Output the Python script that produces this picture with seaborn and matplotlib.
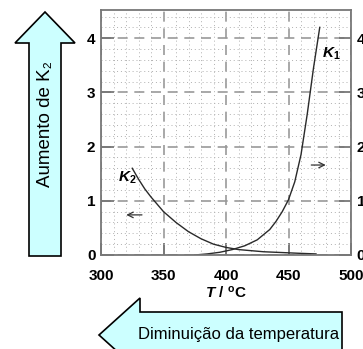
import numpy as np
import pandas as pd
import matplotlib
matplotlib.use('Agg')
import matplotlib.pyplot as plt
import seaborn as sns
from matplotlib.patches import Polygon
from matplotlib.ticker import MultipleLocator

# data
t_k1 = [375, 385, 395, 405, 415, 425, 435, 440, 445, 450, 455, 460, 465, 470, 475]
k1 = [0.0, 0.02, 0.05, 0.1, 0.17, 0.28, 0.47, 0.62, 0.8, 1.02, 1.35, 1.85, 2.6, 3.45, 4.2]
t_k2 = [325, 330, 335, 340, 350, 360, 370, 380, 390, 400, 410, 420, 430, 440, 450, 460, 472]
k2 = [1.6, 1.4, 1.22, 1.07, 0.8, 0.6, 0.43, 0.3, 0.2, 0.14, 0.1, 0.08, 0.06, 0.05, 0.04, 0.03, 0.02]
x_ticks = [300, 350, 400, 450, 500]
y_ticks = [0, 1, 2, 3, 4]

df = pd.concat([
    pd.DataFrame({'T': t_k1, 'K': k1, 'curve': 'K1'}),
    pd.DataFrame({'T': t_k2, 'K': k2, 'curve': 'K2'}),
])

plt.rcParams['font.family'] = ['Liberation Sans', 'DejaVu Sans']
plt.rcParams['mathtext.fontset'] = 'custom'
plt.rcParams['mathtext.it'] = 'Liberation Sans:bold:italic'
plt.rcParams['mathtext.rm'] = 'Liberation Sans:bold'
plt.rcParams['mathtext.bf'] = 'Liberation Sans:bold'

W, H = 363, 349
fig = plt.figure(figsize=(W / 100, H / 100), dpi=100)
ax = fig.add_axes([101 / W, 1 - 255 / H, 250 / W, 245 / H])

sns.lineplot(data=df, x='T', y='K', units='curve', estimator=None, color='#2a2a2a',
             linewidth=1.0, ax=ax, sort=False)

ax.set_xlim(300, 500)
ax.set_ylim(0, 4.52)
ax.set_xticks(x_ticks)
ax.set_yticks(y_ticks)
ax.xaxis.set_minor_locator(MultipleLocator(10))
ax.yaxis.set_minor_locator(MultipleLocator(0.2))
ax.grid(which='major', linestyle=(0, (6, 4)), color='#999999', linewidth=1.2)
ax.grid(which='minor', linestyle=(0, (1, 3)), color='#b0b0b0', linewidth=0.7)
ax.set_axisbelow(True)
for s in ax.spines.values():
    s.set_color('#777777')
    s.set_linewidth(1.3)
ax.tick_params(which='major', direction='in', length=9, width=1.3, color='#777777',
               left=True, right=True, top=False, bottom=True, labelright=True,
               labelsize=11)
ax.tick_params(axis='y', which='major', pad=4)
ax.tick_params(axis='x', which='major', pad=10)
ax.tick_params(which='minor', length=0)
plt.setp(ax.get_xticklabels() + ax.get_yticklabels(), fontweight='bold')
ax.set_xlabel(r'$T$ / $^{\rm o}$C', fontsize=11, fontweight='bold', labelpad=1)
ax.set_ylabel('')

ax.text(484, 3.72, r'$K_1$', fontsize=11, ha='center', va='center')
ax.text(321, 1.42, r'$K_2$', fontsize=11, ha='center', va='center')
ax.annotate('', xy=(482, 1.66), xytext=(466, 1.66),
            arrowprops=dict(arrowstyle='->', color='#333333', lw=0.9))
ax.annotate('', xy=(318, 0.74), xytext=(335, 0.74),
            arrowprops=dict(arrowstyle='->', color='#333333', lw=0.9))

def px(pts):
    return [(x / W, 1 - y / H) for x, y in pts]

up = px([(45, 12), (75, 43), (61, 43), (61, 256), (29, 256), (29, 43), (15, 43)])
fig.patches.append(Polygon(up, closed=True, transform=fig.transFigure,
                           facecolor='#ccffff', edgecolor='black', linewidth=1.2))
left = px([(99, 335), (140, 298), (140, 312), (342, 312), (342, 358), (140, 358), (140, 372)])
fig.patches.append(Polygon(left, closed=True, transform=fig.transFigure,
                           facecolor='#ccffff', edgecolor='black', linewidth=1.2))

fig.text(46 / W, 1 - 124 / H, 'Aumento de K\u2082', rotation=90, ha='center', va='center',
         fontsize=13.5)
fig.text(239 / W, 1 - 334 / H, 'Diminuição da temperatura', ha='center', va='center',
         fontsize=12)

fig.savefig('out.png', dpi=100)
